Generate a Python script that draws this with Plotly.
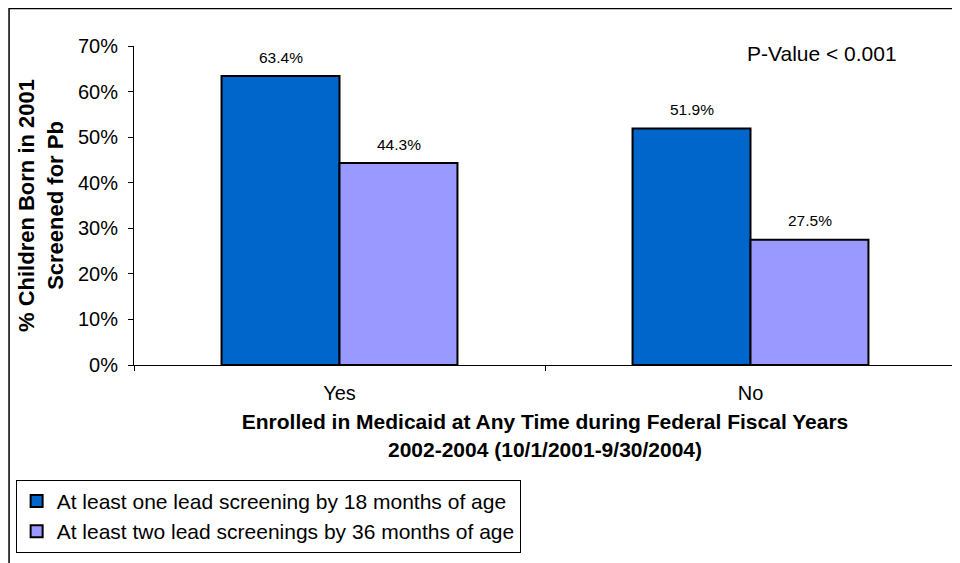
import plotly.graph_objects as go

categories = ["Yes", "No"]
series_names = ["At least one lead screening by 18 months of age",
                "At least two lead screenings by 36 months of age"]
one_by_18 = [63.4, 51.9]
two_by_36 = [44.3, 27.5]
colors = ["#0066CC", "#9999FF"]
y_ticks = [0, 10, 20, 30, 40, 50, 60, 70]

FONT = "Liberation Sans, Arial, sans-serif"

fig = go.Figure()
for name, vals, col in zip(series_names, [one_by_18, two_by_36], colors):
    fig.add_trace(go.Bar(
        x=categories, y=vals, name=name,
        marker=dict(color=col, line=dict(color="#000000", width=2)),
    ))

# data labels
for i, vals in enumerate([one_by_18, two_by_36]):
    shift = -59 if i == 0 else 59
    for c, v in zip(categories, vals):
        fig.add_annotation(x=c, y=v, text=f"{v:.1f}%", showarrow=False,
                           xshift=shift, yshift=19, yanchor="middle",
                           font=dict(family=FONT, size=15.5, color="#000"))

fig.add_annotation(x=0.837, y=0.975, xref="paper", yref="paper",
                   text="P-Value < 0.001", showarrow=False,
                   xanchor="center", yanchor="middle",
                   font=dict(family=FONT, size=21, color="#000"))

# outer frame
fig.add_shape(type="rect", xref="paper", yref="paper",
              x0=-0.152, x1=1.03, y0=-0.68, y1=1.1176,
              line=dict(color="#000", width=1.5), fillcolor="rgba(0,0,0,0)",
              layer="below")

fig.update_layout(
    width=952, height=555,
    margin=dict(l=126, r=4, t=38, b=198),
    paper_bgcolor="white", plot_bgcolor="white",
    barmode="group", bargap=0.426, bargroupgap=0,
    font=dict(family=FONT, color="#000"),
    showlegend=True,
    legend=dict(x=-0.144, y=-0.36, xanchor="left", yanchor="top",
                bordercolor="#000", borderwidth=1, bgcolor="white",
                font=dict(family=FONT, size=21, color="#000"),
                itemwidth=30, tracegroupgap=0),
    xaxis=dict(showline=True, linecolor="#000", linewidth=1,
               ticks="outside", ticklen=5, tickcolor="#000",
               tickson="boundaries", automargin=False,
               ticklabelstandoff=10,
               tickfont=dict(family=FONT, size=20, color="#000"),
               title=dict(text="<b>Enrolled in Medicaid at Any Time during Federal Fiscal Years<br>2002-2004 (10/1/2001-9/30/2004)</b>",
                          font=dict(family=FONT, size=21, color="#000"), standoff=11),
               showgrid=False),
    yaxis=dict(range=[0, 70], tickvals=y_ticks,
               ticktext=[f"{t}%" for t in y_ticks],
               showline=True, linecolor="#000", linewidth=1,
               ticks="outside", ticklen=5, tickcolor="#000",
               ticklabelstandoff=6, automargin=False,
               tickfont=dict(family=FONT, size=20, color="#000"),
               title=dict(text="<b>% Children Born in 2001<br>Screened for Pb</b>",
                          font=dict(family=FONT, size=22, color="#000"), standoff=8),
               showgrid=False, zeroline=False),
)

fig.write_html("out.html")
